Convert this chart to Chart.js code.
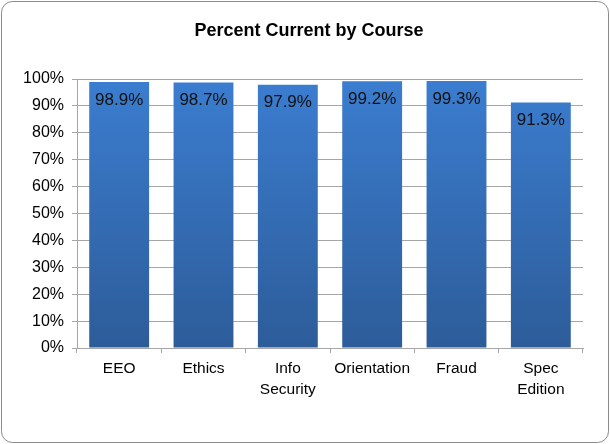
<!DOCTYPE html>
<html>
<head>
<meta charset="utf-8">
<script src="https://cdn.jsdelivr.net/npm/chart.js@4.4.0/dist/chart.umd.min.js"></script>
<style>
html,body{margin:0;padding:0;background:#fff;}
#wrap{position:absolute;left:0;top:0;width:610px;height:444px;}
</style>
</head>
<body>
<div id="wrap"><canvas id="c" width="610" height="444"></canvas></div>
<script>
const categories = ["EEO", "Ethics", ["Info", "Security"], "Orientation", "Fraud", ["Spec", "Edition"]];
const percentCurrent = [98.9, 98.7, 97.9, 99.2, 99.3, 91.3];
const yTicks = [0, 10, 20, 30, 40, 50, 60, 70, 80, 90, 100];
const chartTitle = 'Percent Current by Course';

const FONT = "'Liberation Sans', Arial, sans-serif";

const borderPlugin = {
  id: 'borderBox',
  beforeDraw(chart) {
    const ctx = chart.ctx;
    ctx.save();
    ctx.fillStyle = '#fff';
    ctx.fillRect(0, 0, chart.width, chart.height);
    const x = 1.5, y = 1.5, w = chart.width - 3, h = chart.height - 3, r = 11;
    ctx.beginPath();
    ctx.moveTo(x + r, y);
    ctx.lineTo(x + w - r, y);
    ctx.arcTo(x + w, y, x + w, y + r, r);
    ctx.lineTo(x + w, y + h - r);
    ctx.arcTo(x + w, y + h, x + w - r, y + h, r);
    ctx.lineTo(x + r, y + h);
    ctx.arcTo(x, y + h, x, y + h - r, r);
    ctx.lineTo(x, y + r);
    ctx.arcTo(x, y, x + r, y, r);
    ctx.closePath();
    ctx.strokeStyle = '#8a8a8a';
    ctx.lineWidth = 1;
    ctx.stroke();
    // title, centred on the whole chart box
    ctx.font = 'bold 18px ' + FONT;
    ctx.fillStyle = '#000';
    ctx.textAlign = 'center';
    ctx.textBaseline = 'middle';
    ctx.fillText(chartTitle, chart.width / 2 + 4, 31);
    ctx.restore();
  }
};

const labelPlugin = {
  id: 'barLabels',
  afterDatasetsDraw(chart) {
    const ctx = chart.ctx;
    const meta = chart.getDatasetMeta(0);
    ctx.save();
    ctx.font = '17px ' + FONT;
    ctx.fillStyle = '#111';
    ctx.textAlign = 'center';
    ctx.textBaseline = 'middle';
    meta.data.forEach((bar, i) => {
      ctx.fillText(percentCurrent[i].toFixed(1) + '%', bar.x, bar.y + 18);
    });
    ctx.restore();
  }
};

function barGradient(context) {
  const chart = context.chart;
  const area = chart.chartArea;
  if (!area) return '#3a74c4';
  const g = chart.ctx.createLinearGradient(0, area.top, 0, area.bottom);
  g.addColorStop(0, '#3b7dd0');
  g.addColorStop(1, '#2d5c99');
  return g;
}

new Chart(document.getElementById('c'), {
  type: 'bar',
  data: {
    labels: categories,
    datasets: [{
      data: percentCurrent,
      backgroundColor: barGradient,
      borderWidth: 0,
      barPercentage: 0.71,
      categoryPercentage: 1.0
    }]
  },
  options: {
    responsive: false,
    animation: false,
    devicePixelRatio: 1,
    layout: { padding: { left: 0, right: 27, top: 79, bottom: 0 } },
    plugins: {
      legend: { display: false },
      tooltip: { enabled: false },
      title: { display: false }
    },
    scales: {
      y: {
        min: 0,
        max: 100,
        afterBuildTicks(scale) { scale.ticks = yTicks.map(v => ({ value: v })); },
        afterFit(scale) { scale.width = 77; },
        ticks: {
          color: '#000',
          font: { family: FONT, size: 16 },
          padding: 8,
          callback: v => v + '%'
        },
        grid: { color: '#a6a6a6', lineWidth: 1, tickLength: 5 },
        border: { color: '#a6a6a6' }
      },
      x: {
        afterFit(scale) { scale.height = 96; },
        ticks: {
          color: '#000',
          font: { family: FONT, size: 15.5, lineHeight: 1.3 },
          padding: 6,
          maxRotation: 0
        },
        grid: { offset: true, drawOnChartArea: false, color: '#a6a6a6', tickLength: 5 },
        border: { color: '#a6a6a6' }
      }
    }
  },
  plugins: [borderPlugin, labelPlugin]
});
</script>
</body>
</html>
